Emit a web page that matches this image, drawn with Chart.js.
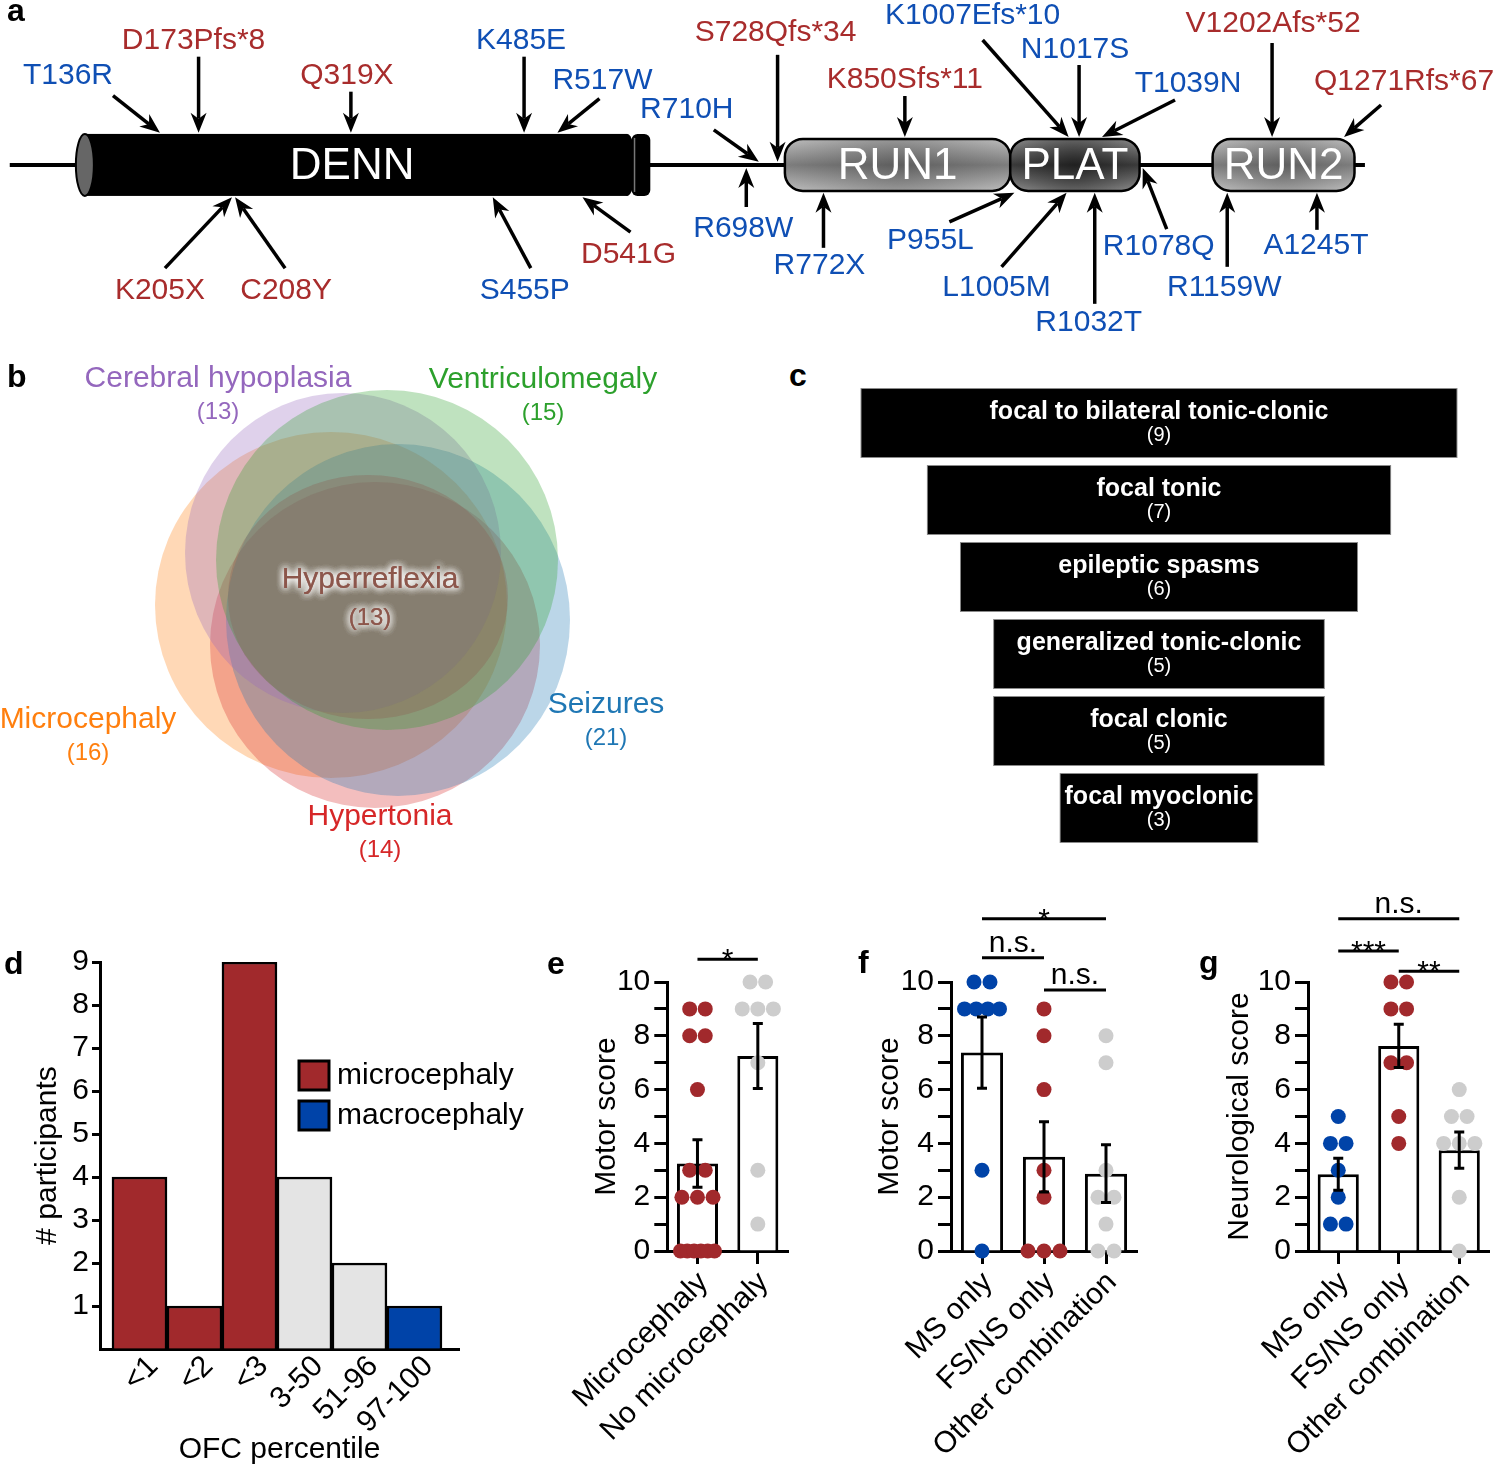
<!DOCTYPE html>
<html>
<head>
<meta charset="utf-8">
<title>DENND5A variants and phenotypes</title>
<script src="https://cdn.jsdelivr.net/npm/chart.js@4.4.1/dist/chart.umd.min.js"></script>
<style>
  body { margin: 0; background: #fff; }
  #fig { position: relative; width: 1497px; height: 1468px; overflow: hidden; font-family: "Liberation Sans", Arial, sans-serif; }
  #fig canvas { position: absolute; }
  .tag { position: absolute; font-weight: bold; font-size: 32px; line-height: 1; }
</style>
</head>
<body>
<div id="fig">
  <canvas id="chartA" style="left:0;top:0;width:1497px;height:350px" width="1497" height="350"></canvas>
  <canvas id="chartB" style="left:0;top:355px;width:700px;height:530px" width="700" height="530"></canvas>
  <canvas id="chartC" style="left:850px;top:370px;width:620px;height:490px" width="620" height="490"></canvas>
  <canvas id="chartD" style="left:0;top:930px;width:540px;height:538px" width="540" height="538"></canvas>
  <canvas id="chartE" style="left:540px;top:880px;width:260px;height:588px" width="260" height="588"></canvas>
  <canvas id="chartF" style="left:800px;top:880px;width:350px;height:588px" width="350" height="588"></canvas>
  <canvas id="chartG" style="left:1150px;top:880px;width:347px;height:588px" width="347" height="588"></canvas>
  <div class="tag" style="left:7px;top:-6px">a</div>
  <div class="tag" style="left:7px;top:360px">b</div>
  <div class="tag" style="left:789px;top:359px">c</div>
  <div class="tag" style="left:4px;top:947px">d</div>
  <div class="tag" style="left:547px;top:947px">e</div>
  <div class="tag" style="left:858px;top:946px">f</div>
  <div class="tag" style="left:1199px;top:946px">g</div>
</div>
<script>
// ---------- data ----------
const proteinLength = 1287;
const domainNames = ['DENN', 'RUN1', 'PLAT', 'RUN2'];
const domainStart = [64, 735, 951, 1145];
const domainEnd = [584, 951, 1075, 1281];

const mutNames = ['T136R', 'D173Pfs*8', 'K205X', 'C208Y', 'Q319X', 'S455P', 'K485E', 'R517W', 'D541G',
  'R698W', 'R710H', 'S728Qfs*34', 'R772X', 'K850Sfs*11', 'P955L', 'L1005M', 'K1007Efs*10', 'N1017S',
  'R1032T', 'T1039N', 'R1078Q', 'R1159W', 'V1202Afs*52', 'A1245T', 'Q1271Rfs*67'];
const mutPos = [136, 173, 205, 208, 319, 455, 485, 517, 541, 698, 710, 728, 772, 850, 955, 1005, 1007, 1017,
  1032, 1039, 1078, 1159, 1202, 1245, 1271];
const mutRed = [0, 1, 1, 1, 1, 0, 0, 0, 1, 0, 0, 1, 0, 1, 0, 0, 0, 0, 0, 0, 0, 0, 1, 0, 1];
const mutSide = [1, 1, -1, -1, 1, -1, 1, 1, -1, -1, 1, 1, -1, 1, -1, -1, 1, 1, -1, 1, -1, -1, 1, -1, 1];

const vennSets = ['Cerebral hypoplasia', 'Ventriculomegaly', 'Seizures', 'Microcephaly', 'Hypertonia', 'Hyperreflexia'];
const vennCounts = [13, 15, 21, 16, 14, 13];

const seizureTypes = ['focal to bilateral tonic-clonic', 'focal tonic', 'epileptic spasms',
  'generalized tonic-clonic', 'focal clonic', 'focal myoclonic'];
const seizureCounts = [9, 7, 6, 5, 5, 3];

const ofcCats = ['<1', '<2', '<3', '3-50', '51-96', '97-100'];
const ofcCounts = [4, 1, 9, 4, 2, 1];
const ofcGroup = ['micro', 'micro', 'micro', 'normal', 'normal', 'macro'];

const eCats = ['Microcephaly', 'No microcephaly'];
const eMicro = [9, 9, 8, 8, 6, 3, 3, 2, 2, 2, 0, 0, 0, 0, 0, 0];
const eNoMicro = [10, 10, 9, 9, 9, 7, 3, 1];
const eSig = [[0, 1, 10.85, '*']];

const fgCats = ['MS only', 'FS/NS only', 'Other combination'];
const fMsOnly = [10, 10, 9, 9, 9, 9, 3, 0];
const fFsNsOnly = [9, 8, 6, 3, 2, 0, 0, 0];
const fOther = [8, 7, 3, 2, 2, 1, 0, 0];
const fSig = [[0, 2, 12.35, '*'], [0, 1, 10.9, 'n.s.'], [1, 2, 9.7, 'n.s.']];

const gMsOnly = [5, 4, 4, 3, 2, 1, 1];
const gFsNsOnly = [10, 10, 9, 9, 7, 7, 5, 4];
const gOther = [6, 5, 5, 4, 4, 4, 2, 0];
const gSig = [[0, 2, 12.35, 'n.s.'], [0, 1, 11.15, '***'], [1, 2, 10.4, '**']];

// ---------- styles / layout ----------
const RED = '#a1292c';
const BLUE = '#0043a8';
const GRAY = '#cdcdcd';
const groupColor = { micro: RED, normal: '#e4e4e4', macro: BLUE };
const textRed = '#a82c2c';
const textBlue = '#0f4fb4';

// arrow tail (dx, dy) and label centre (dx, dy), relative to the arrow tip
const mutLayout = [
  [-47, -37, -92, -57], [0, -76, -5, -92], [-67, 71, -72, 94], [50, 71, 51, 94], [0, -41, -4, -57],
  [38, 71, 32, 94], [0, -76, -3, -92], [42, -34, 45, -52], [48, 35, 46, 58], [0, 39, -3, 61],
  [-45, -32, -72, -52], [0, -107, -2, -129], [0, 55, -4, 73], [0, -41, 0, -57], [-65, 29, -84, 48],
  [-65, 74, -70, 95], [-86, -97, -96, -121], [0, -72, -4, -87], [0, 111, -6, 130], [73, -37, 86, -53],
  [24, 61, 16, 79], [0, 74, -3, 95], [0, -94, 1, -113], [0, 37, -1, 53], [37, -32, 60, -55]
];
const vennColor = ['#9467bd', '#2ca02c', '#1f77b4', '#ff7f0e', '#d62728', '#8c564b'];
const vennShape = [[343, 553, 158, 160], [387, 560, 171, 170], [398, 620, 172, 176],
  [331, 605, 176, 173], [375, 645, 165, 163], [368, 597, 140, 122]];
const vennLabelAt = [[218, 379], [543, 380], [606, 705], [88, 720], [380, 817], [370, 580]];
const drawOrder = [3, 4, 2, 0, 1, 5];

const FONT = '"Liberation Sans", Arial, sans-serif';
Chart.defaults.font.family = FONT;
Chart.defaults.font.size = 30;
Chart.defaults.color = '#000';
Chart.defaults.animation = false;
Chart.defaults.responsive = false;
Chart.defaults.events = [];
Chart.defaults.plugins.legend.display = false;
Chart.defaults.plugins.tooltip.enabled = false;

function mean(a) { return a.reduce((s, v) => s + v, 0) / a.length; }
function sem(a) {
  const m = mean(a);
  const v = a.reduce((s, x) => s + (x - m) * (x - m), 0) / (a.length - 1);
  return Math.sqrt(v / a.length);
}

// ---------- a: protein diagram ----------
function domainAt(p) {
  for (let i = 0; i < domainNames.length; i++) {
    if (p >= domainStart[i] && p <= domainEnd[i]) return i;
  }
  return -1;
}
function tipY(p, side) {
  const d = domainAt(p);
  const h = d === 0 ? 1.04 : d > 0 ? 0.9 : 0.1;
  return side * h;
}

function drawArrow(ctx, x1, y1, x2, y2) {
  const ang = Math.atan2(y2 - y1, x2 - x1);
  const c = Math.cos(ang), s = Math.sin(ang);
  const len = 20, w = 8, notch = 6;
  const bx = x2 - len * c, by = y2 - len * s;
  ctx.beginPath();
  ctx.moveTo(x1, y1);
  ctx.lineTo(x2 - (len - notch) * c, y2 - (len - notch) * s);
  ctx.stroke();
  ctx.beginPath();
  ctx.moveTo(x2, y2);
  ctx.lineTo(bx - s * w, by + c * w);
  ctx.lineTo(x2 - (len - notch) * c, y2 - (len - notch) * s);
  ctx.lineTo(bx + s * w, by - c * w);
  ctx.closePath();
  ctx.fill();
}

const proteinPlugin = {
  id: 'protein',
  beforeDatasetsDraw(chart) {
    const { ctx, scales: { x, y } } = chart;
    const y0 = y.getPixelForValue(0);
    const unit = y0 - y.getPixelForValue(1);
    ctx.save();
    ctx.strokeStyle = '#000';
    ctx.lineWidth = 4;
    ctx.beginPath();
    ctx.moveTo(x.getPixelForValue(-8), y0);
    ctx.lineTo(x.getPixelForValue(proteinLength + 4), y0);
    ctx.stroke();

    domainNames.forEach((name, i) => {
      const xa = x.getPixelForValue(domainStart[i]);
      const xb = x.getPixelForValue(domainEnd[i]);
      if (i === 0) {
        const h = unit;
        ctx.fillStyle = '#000';
        ctx.fillRect(xa, y0 - h, xb - xa, 2 * h);
        ctx.beginPath();
        ctx.ellipse(xb, y0, 8, h, 0, 0, Math.PI * 2);
        ctx.fill();
        ctx.beginPath();
        ctx.ellipse(xa, y0, 9, h, 0, 0, Math.PI * 2);
        ctx.fillStyle = '#666';
        ctx.fill();
        ctx.lineWidth = 2;
        ctx.stroke();
        // small end disc
        const da = x.getPixelForValue(domainEnd[i] + 4), db = x.getPixelForValue(domainEnd[i] + 22);
        ctx.fillStyle = '#000';
        ctx.beginPath();
        ctx.roundRect(da, y0 - h, db - da, 2 * h, 6);
        ctx.fill();
        ctx.strokeStyle = '#777';
        ctx.lineWidth = 1.5;
        ctx.beginPath();
        ctx.moveTo(da + 3, y0 - h + 4);
        ctx.lineTo(da + 3, y0 + h - 4);
        ctx.stroke();
        ctx.strokeStyle = '#000';
      } else {
        const h = unit * 0.84;
        const dark = name === 'PLAT';
        const lg = ctx.createLinearGradient(0, y0 - h, 0, y0 + h);
        lg.addColorStop(0, dark ? '#8a8a8a' : '#bdbdbd');
        lg.addColorStop(0.5, dark ? '#3a3a3a' : '#7d7d7d');
        lg.addColorStop(1, dark ? '#8a8a8a' : '#bdbdbd');
        ctx.beginPath();
        ctx.roundRect(xa, y0 - h, xb - xa, 2 * h, 18);
        ctx.fillStyle = lg;
        ctx.fill();
        const rg = ctx.createRadialGradient((xa + xb) / 2, y0, 0, (xa + xb) / 2, y0, (xb - xa) / 2);
        rg.addColorStop(0, dark ? 'rgba(0,0,0,0.45)' : 'rgba(0,0,0,0.25)');
        rg.addColorStop(1, 'rgba(0,0,0,0)');
        ctx.fillStyle = rg;
        ctx.fill();
        ctx.lineWidth = 2.5;
        ctx.strokeStyle = '#000';
        ctx.stroke();
      }
      ctx.fillStyle = '#fff';
      ctx.font = '44px ' + FONT;
      ctx.textAlign = 'center';
      ctx.textBaseline = 'middle';
      ctx.fillText(name, (xa + xb) / 2 + (i === 0 ? -4 : 0), y0 + 2);
    });
    ctx.restore();
  },
  afterDatasetsDraw(chart) {
    const { ctx } = chart;
    const meta = chart.getDatasetMeta(0);
    ctx.save();
    ctx.strokeStyle = '#000';
    ctx.fillStyle = '#000';
    ctx.lineWidth = 3.5;
    meta.data.forEach((pt, i) => {
      const L = mutLayout[i];
      drawArrow(ctx, pt.x + L[0], pt.y + L[1], pt.x, pt.y);
    });
    ctx.font = '30px ' + FONT;
    ctx.textAlign = 'center';
    ctx.textBaseline = 'middle';
    meta.data.forEach((pt, i) => {
      const L = mutLayout[i];
      ctx.fillStyle = mutRed[i] ? textRed : textBlue;
      ctx.fillText(mutNames[i], pt.x + L[2], pt.y + L[3]);
    });
    ctx.restore();
  }
};

new Chart(document.getElementById('chartA'), {
  type: 'scatter',
  data: { datasets: [{ data: mutPos.map((p, i) => ({ x: p, y: tipY(p, mutSide[i]) })), pointRadius: 0 }] },
  options: {
    layout: { padding: 0 },
    scales: {
      x: { type: 'linear', display: false, min: -17.35, max: 1417.6 },
      y: { type: 'linear', display: false, min: -5.97, max: 5.32 }
    }
  },
  plugins: [proteinPlugin]
});

// ---------- b: Venn ----------
function hexA(hex, a) {
  const n = parseInt(hex.slice(1), 16);
  return `rgba(${n >> 16},${(n >> 8) & 255},${n & 255},${a})`;
}
const vennPlugin = {
  id: 'venn',
  beforeDatasetsDraw(chart) {
    const { ctx, scales: { x, y } } = chart;
    ctx.save();
    drawOrder.forEach(i => {
      const [cx, cy, rx, ry] = vennShape[i];
      const px = x.getPixelForValue(cx), py = y.getPixelForValue(cy);
      const prx = Math.abs(x.getPixelForValue(cx + rx) - px);
      const pry = Math.abs(y.getPixelForValue(cy + ry) - py);
      ctx.beginPath();
      ctx.ellipse(px, py, prx, pry, 0, 0, Math.PI * 2);
      ctx.fillStyle = hexA(vennColor[i], 0.3);
      ctx.fill();
    });
    ctx.textAlign = 'center';
    ctx.textBaseline = 'middle';
    vennSets.forEach((name, i) => {
      const lx = x.getPixelForValue(vennLabelAt[i][0]);
      const ly = y.getPixelForValue(vennLabelAt[i][1]);
      const inner = name === 'Hyperreflexia';
      const passes = inner ? 4 : 1;
      for (let k = 0; k < passes; k++) {
        if (inner) { ctx.shadowColor = 'rgba(255,255,255,0.9)'; ctx.shadowBlur = 7; }
        ctx.fillStyle = vennColor[i];
        ctx.font = '30px ' + FONT;
        ctx.fillText(name, lx, ly);
        ctx.font = '24px ' + FONT;
        ctx.fillText('(' + vennCounts[i] + ')', lx, ly + (inner ? 38 : 33));
      }
      ctx.shadowBlur = 0;
    });
    ctx.restore();
  }
};
new Chart(document.getElementById('chartB'), {
  type: 'scatter',
  data: { datasets: [{ data: [] }] },
  options: {
    layout: { padding: 0 },
    scales: {
      x: { type: 'linear', display: false, min: 0, max: 700 },
      y: { type: 'linear', display: false, min: 355, max: 885, reverse: true }
    }
  },
  plugins: [vennPlugin]
});

// ---------- c: seizure types ----------
const funnelText = {
  id: 'funnelText',
  afterDatasetsDraw(chart) {
    const { ctx } = chart;
    const meta = chart.getDatasetMeta(0);
    ctx.save();
    ctx.fillStyle = '#fff';
    ctx.textAlign = 'center';
    ctx.textBaseline = 'middle';
    meta.data.forEach((bar, i) => {
      const cx = (bar.x + bar.base) / 2;
      ctx.font = 'bold 25px ' + FONT;
      ctx.fillText(seizureTypes[i], cx, bar.y - 11);
      ctx.font = '20px ' + FONT;
      ctx.fillText('(' + seizureCounts[i] + ')', cx, bar.y + 12);
    });
    ctx.restore();
  }
};
new Chart(document.getElementById('chartC'), {
  type: 'bar',
  data: {
    labels: seizureTypes,
    datasets: [{
      data: seizureCounts.map(n => [-n / 2, n / 2]),
      backgroundColor: '#000',
      borderColor: '#8a8a8a',
      borderWidth: 1,
      borderSkipped: false,
      barPercentage: 0.91,
      categoryPercentage: 1
    }]
  },
  options: {
    indexAxis: 'y',
    layout: { padding: { left: 9, right: 11, top: 14.5, bottom: 13.5 } },
    scales: {
      x: { type: 'linear', display: false, min: -4.52, max: 4.52 },
      y: { display: false }
    }
  },
  plugins: [funnelText]
});

// ---------- d: OFC percentile ----------
const ofcLegend = {
  id: 'ofcLegend',
  afterDraw(chart) {
    const { ctx, chartArea } = chart;
    const items = [['microcephaly', groupColor.micro], ['macrocephaly', groupColor.macro]];
    ctx.save();
    ctx.font = '30px ' + FONT;
    ctx.textBaseline = 'middle';
    ctx.textAlign = 'left';
    items.forEach((it, k) => {
      const x0 = chartArea.left + 199, y0 = chartArea.top + 99 + k * 40;
      ctx.fillStyle = it[1];
      ctx.fillRect(x0, y0, 30, 29);
      ctx.lineWidth = 3;
      ctx.strokeStyle = '#000';
      ctx.strokeRect(x0, y0, 30, 29);
      ctx.fillStyle = '#000';
      ctx.fillText(it[0], x0 + 38, y0 + 15);
    });
    ctx.restore();
  }
};
new Chart(document.getElementById('chartD'), {
  type: 'bar',
  data: {
    datasets: [{
      data: ofcCounts.map((v, i) => ({ x: i, y: v })),
      backgroundColor: ofcGroup.map(g => groupColor[g]),
      borderColor: '#000',
      borderWidth: 2.5,
      barPercentage: 1,
      categoryPercentage: 1
    }]
  },
  options: {
    layout: { padding: { left: 0, right: 81, top: 32, bottom: 0 } },
    scales: {
      x: {
        type: 'linear', min: -0.718, max: 5.81, offset: false,
        afterBuildTicks: ax => { ax.ticks = ofcCats.map((c, i) => ({ value: i })); },
        ticks: { callback: v => ofcCats[v], minRotation: 45, maxRotation: 45, autoSkip: false, padding: 0, labelOffset: 14 },
        grid: { display: false, drawTicks: false, offset: false },
        border: { display: true, width: 3, color: '#000' },
        title: { display: true, text: 'OFC percentile', padding: { top: 0, bottom: 0 } },
        afterFit: ax => { ax.height = 119; }
      },
      y: {
        min: 0, max: 9,
        ticks: { stepSize: 1, autoSkip: false, callback: v => (v === 0 ? '' : v), padding: 3 },
        grid: {
          drawOnChartArea: false, tickLength: 8, tickWidth: 3,
          tickColor: c => (c.tick && c.tick.value === 0 ? 'rgba(0,0,0,0)' : '#000')
        },
        border: { display: true, width: 3, color: '#000' },
        title: { display: true, text: '# participants', padding: { top: 30, bottom: 0 } },
        afterFit: ax => { ax.width = 100; }
      }
    }
  },
  plugins: [ofcLegend]
});

// ---------- e, f, g: scores ----------
const CAT_PX = 62;
function swarm(values, center) {
  const counts = {};
  values.forEach(v => { counts[v] = (counts[v] || 0) + 1; });
  const seen = {};
  return values.map(v => {
    const k = counts[v];
    seen[v] = (seen[v] === undefined ? -1 : seen[v]) + 1;
    const gap = k > 1 ? Math.min(16, 35 / (k - 1)) : 0;
    return { x: center + (seen[v] - (k - 1) / 2) * gap / CAT_PX, y: v };
  });
}

function scoreChart(id, cats, groups, colors, sig, yTitle, box) {
  const datasets = [{
    type: 'bar',
    data: groups.map((g, i) => ({ x: i, y: mean(g) })),
    backgroundColor: '#fff',
    borderColor: '#000',
    borderWidth: 3,
    barPercentage: 0.68,
    categoryPercentage: 1,
    order: 3
  }];
  groups.forEach((g, i) => datasets.push({
    type: 'scatter',
    data: swarm(g, i),
    pointRadius: 7.5,
    pointBackgroundColor: colors[i],
    pointBorderWidth: 0,
    clip: false,
    order: 2
  }));

  const extras = {
    id: 'extras' + id,
    afterDatasetsDraw(chart) {
      const { ctx, scales: { x, y } } = chart;
      ctx.save();
      ctx.strokeStyle = '#000';
      ctx.lineWidth = 3;
      groups.forEach((g, i) => {
        const cx = x.getPixelForValue(i);
        const m = mean(g), e = sem(g);
        const yt = y.getPixelForValue(m + e), yb = y.getPixelForValue(m - e);
        ctx.beginPath();
        ctx.moveTo(cx, yt); ctx.lineTo(cx, yb);
        ctx.moveTo(cx - 5, yt); ctx.lineTo(cx + 5, yt);
        ctx.moveTo(cx - 5, yb); ctx.lineTo(cx + 5, yb);
        ctx.stroke();
      });
      ctx.fillStyle = '#000';
      ctx.textAlign = 'center';
      ctx.textBaseline = 'alphabetic';
      ctx.font = '30px ' + FONT;
      sig.forEach(([a, b, v, t]) => {
        const xa = x.getPixelForValue(a), xb = x.getPixelForValue(b), yy = y.getPixelForValue(v);
        ctx.beginPath();
        ctx.moveTo(xa, yy); ctx.lineTo(xb, yy);
        ctx.stroke();
        const stars = /^\*+$/.test(t);
        ctx.fillText(t, (xa + xb) / 2, stars ? yy + 10 : yy - 6);
      });
      ctx.restore();
    }
  };

  new Chart(document.getElementById(id), {
    type: 'bar',
    data: { datasets },
    options: {
      layout: { padding: { left: 0, right: box.pr, top: 102, bottom: 0 } },
      scales: {
        x: {
          type: 'linear', min: -0.5, max: cats.length - 0.5, offset: false,
          afterBuildTicks: ax => { ax.ticks = cats.map((c, i) => ({ value: i })); },
          ticks: { callback: v => cats[v], minRotation: 45, maxRotation: 45, autoSkip: false, padding: 1, labelOffset: 6 },
          grid: { display: true, offset: false, drawOnChartArea: false, drawTicks: true, tickLength: 13, tickWidth: 3, tickColor: '#000' },
          border: { display: true, width: 3, color: '#000' },
          afterFit: ax => { ax.height = 588 - 371; }
        },
        y: {
          min: 0, max: 10,
          ticks: { stepSize: 1, autoSkip: false, callback: v => (v % 2 === 0 ? v : ''), padding: 4 },
          grid: { drawOnChartArea: false, tickLength: 13, tickWidth: 3, tickColor: '#000' },
          border: { display: true, width: 3, color: '#000' },
          title: { display: true, text: yTitle, padding: { top: box.tp, bottom: 0 } },
          afterFit: ax => { ax.width = box.yw; }
        }
      }
    },
    plugins: [extras]
  });
}

scoreChart('chartE', eCats, [eMicro, eNoMicro], [RED, GRAY], eSig, 'Motor score', { yw: 126, tp: 47, pr: 12 });
scoreChart('chartF', fgCats, [fMsOnly, fFsNsOnly, fOther], [BLUE, RED, GRAY], fSig, 'Motor score', { yw: 151, tp: 72, pr: 13 });
scoreChart('chartG', fgCats, [gMsOnly, gFsNsOnly, gOther], [BLUE, RED, GRAY], gSig, 'Neurological score', { yw: 158, tp: 72, pr: 2 });
</script>
</body>
</html>
